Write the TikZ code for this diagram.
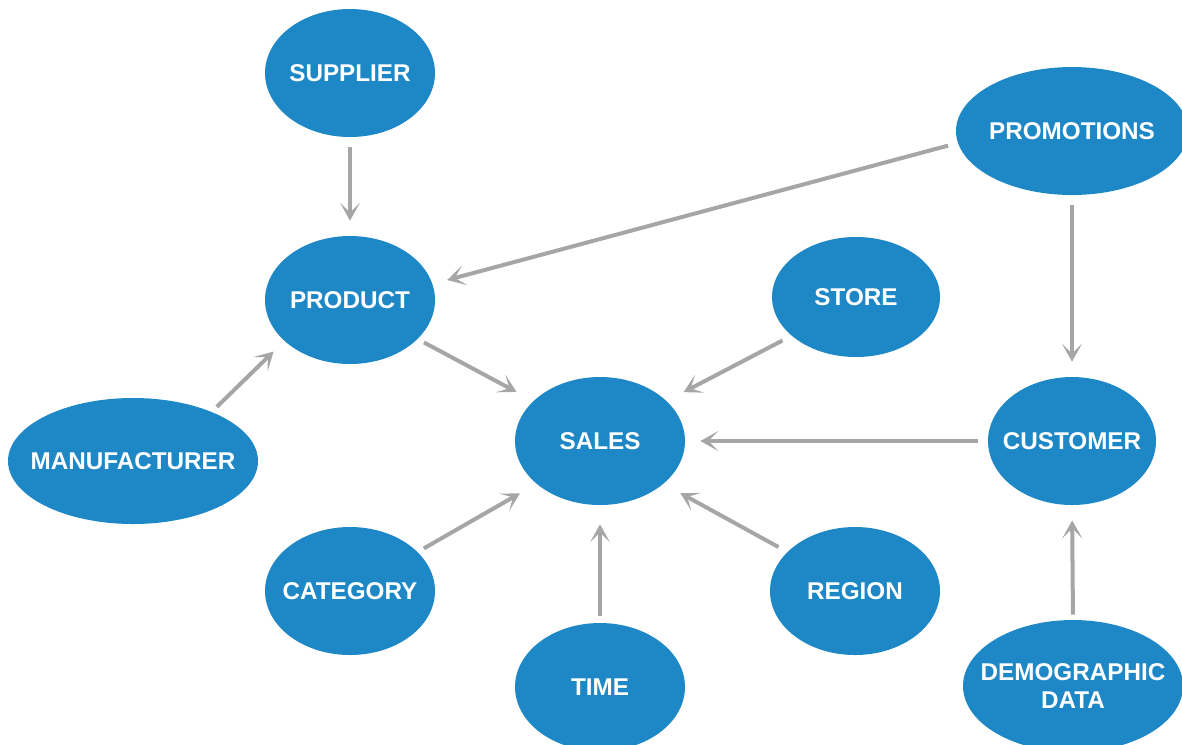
\documentclass[tikz,border=0pt]{standalone}
\usepackage{fontspec}
\setmainfont{Liberation Sans}
\usetikzlibrary{arrows.meta,shapes.geometric}
\definecolor{dimblue}{RGB}{30,136,199}
\definecolor{linkgray}{RGB}{166,166,166}
% zero-width label, so the ellipse keeps its set size
\newcommand{\dl}[1]{\makebox[0pt]{#1}}

\begin{document}
\begin{tikzpicture}[x=1cm, y=1cm,
  dim/.style={ellipse, fill=dimblue, text=white, inner sep=0pt,
              minimum width=3.4cm, minimum height=2.56cm, align=center,
              font=\bfseries\fontsize{13.8}{15.9}\selectfont},
  link/.style={-{Stealth[length=3.6mm, width=4mm, inset=2mm]},
               line width=0.8mm, linkgray, shorten <=2mm, shorten >=3mm},
  tosales/.style={link, shorten >=3.8mm}]
\useasboundingbox (0,0) rectangle (23.64,-14.88);
% fact table in the middle, dimensions around it
\node[dim] (sales)  at (12.00,-8.82)  {\dl{SALES}};
\node[dim] (sup)    at (7.00,-1.46)   {\dl{SUPPLIER}};
\node[dim] (prod)   at (7.00,-6.00)   {\dl{PRODUCT}};
\node[dim, minimum width=5cm, minimum height=2.52cm]
           (manu)   at (2.66,-9.22)   {\dl{MANUFACTURER}};
\node[dim, minimum width=3.36cm, minimum height=2.4cm]
           (store)  at (17.12,-5.94)  {\dl{STORE}};
\node[dim, minimum width=4.64cm] (promo) at (21.44,-2.62) {\dl{PROMOTIONS}};
\node[dim, minimum width=3.36cm] (cust)  at (21.44,-8.82) {\dl{CUSTOMER}};
\node[dim] (cat)    at (7.00,-11.82)  {\dl{CATEGORY}};
\node[dim] (region) at (17.10,-11.82) {\dl{REGION}};
\node[dim] (time)   at (12.00,-13.74) {\dl{TIME}};
\node[dim, minimum width=4.4cm, minimum height=2.64cm]
           (demo)   at (21.46,-13.72) {\dl{DEMOGRAPHIC}\\\dl{DATA}};
% links
\draw[link] (sup.south) -- (prod.north);
\draw[link] (promo.186) -- (prod.11);
\draw[link, shorten <=1.4mm] (manu.32) -- (prod.212);
\draw[tosales, shorten <=1.4mm] (prod.-30) -- (sales.149);
\draw[tosales] (store.211) -- (sales.31);
\draw[link] (cust.west) -- (sales.east);
\draw[link] (promo.south) -- (cust.north);
\draw[tosales, shorten <=1.4mm] (cat.30) -- (sales.214);
\draw[tosales, shorten <=1.4mm] (time.north) -- (sales.south);
\draw[tosales] (region.150) -- (sales.-34);
\draw[link, shorten <=1mm] (demo.north) -- (cust.south);
\end{tikzpicture}
\end{document}
